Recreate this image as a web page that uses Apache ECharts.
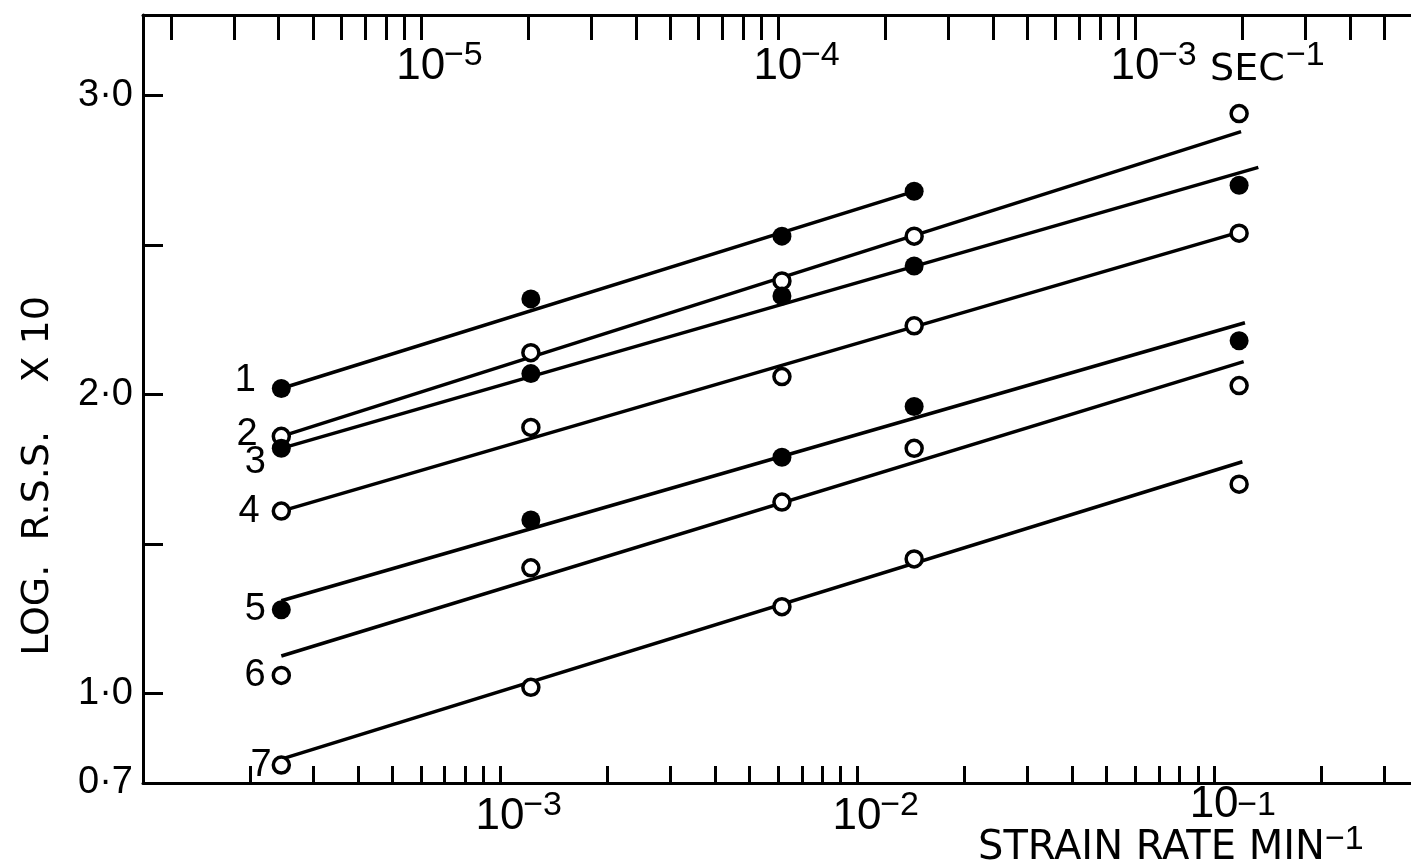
<!DOCTYPE html>
<html>
<head>
<meta charset="utf-8">
<title>Log R.S.S. against strain rate</title>
<script src="https://cdn.jsdelivr.net/npm/echarts@6/dist/echarts.min.js"></script>
<style>
  html, body { margin: 0; padding: 0; background: #fff; }
  #chart { width: 1411px; height: 862px; }
</style>
</head>
<body>
<div id="chart"></div>
<script>
// Strain rates (min^-1) of the five test columns
const strainRates = [2.44e-4, 1.22e-3, 6.16e-3, 1.445e-2, 1.175e-1];

// log(R.S.S.) x 10 for each numbered curve; null where no test was made
const curve1 = [2.02, 2.32, 2.53, 2.68, null];
const curve2 = [1.86, 2.14, 2.38, 2.53, 2.94];
const curve3 = [1.82, 2.07, 2.33, 2.43, 2.70];
const curve4 = [1.61, 1.89, 2.06, 2.23, 2.54];
const curve5 = [1.28, 1.58, 1.79, 1.96, 2.18];
const curve6 = [1.06, 1.42, 1.64, 1.82, 2.03];
const curve7 = [0.76, 1.02, 1.29, 1.45, 1.70];

const curveNames = ['1', '2', '3', '4', '5', '6', '7'];
const filledMarker = [true, false, true, false, true, false, false];

// Straight-line fits: strain rate and value at each end of the line
const fitStartRate  = [2.44e-4, 2.44e-4, 2.44e-4, 2.44e-4, 2.44e-4, 2.44e-4, 2.44e-4];
const fitEndRate    = [1.445e-2, 0.119, 0.133, 0.123, 0.122, 0.121, 0.120];
const fitStartValue = [2.02, 1.86, 1.82, 1.61, 1.31, 1.125, 0.78];
const fitEndValue   = [2.68, 2.88, 2.76, 2.55, 2.24, 2.11, 1.775];

// Axis ranges and tick values
const rateMin = 1e-4, rateMax = 0.356;          // min^-1
const secondsPerMinute = 60;
const minLabelValues = [1e-3, 1e-2, 1e-1];
const secLabelValues = [1e-5, 1e-4, 1e-3];
const rssLabelValues = [0.7, 1.0, 2.0, 3.0];
const rssTickValues = [1.0, 1.5, 2.0, 2.5, 3.0];
const tickMultipliers = [1, 2, 3, 4, 5, 6, 7, 8, 9];
const minTickDecades = [1e-4, 1e-3, 1e-2, 1e-1];
const secTickDecades = [1e-6, 1e-5, 1e-4, 1e-3];

const curves = [curve1, curve2, curve3, curve4, curve5, curve6, curve7];

function decadeTicks(decades, lo, hi) {
  const out = [];
  decades.forEach(d => tickMultipliers.forEach(m => {
    const v = d * m;
    if (v >= lo * 1.0001 && v <= hi) out.push(v);
  }));
  return out;
}
const minTickValues = decadeTicks(minTickDecades, rateMin, rateMax);
const secTickValues = decadeTicks(secTickDecades, rateMin / secondsPerMinute, rateMax / secondsPerMinute);

const NUM = '"Liberation Sans", Arial, sans-serif';
const TXT = '"DejaVu Sans", sans-serif';

const powerRich = {
  p:  { width: 36 },
  q:  { width: 164 },
  b:  { fontFamily: NUM, fontSize: 44, lineHeight: 50, verticalAlign: 'bottom', color: '#000' },
  s:  { fontFamily: NUM, fontSize: 34, lineHeight: 24, verticalAlign: 'top', width: 36, color: '#000' },
  // the last power of ten sits a little higher, clear of the axis title below it
  c:  { fontFamily: NUM, fontSize: 44, lineHeight: 38, verticalAlign: 'bottom', color: '#000' },
  r:  { fontFamily: NUM, fontSize: 34, lineHeight: 14, verticalAlign: 'top', width: 36, color: '#000' },
  t:  { fontFamily: TXT, fontSize: 38, lineHeight: 50, verticalAlign: 'bottom', width: 92, color: '#000' }
};
function exponentOf(v) { return Math.round(Math.log10(v)); }
function minLabel(v) {
  const e = exponentOf(v);
  if (e === -1) return '{p|}{c|10}{r|\u22121}';
  return '{p|}{b|10}{s|\u2212' + (-e) + '}';
}
function secLabel(v) {
  const e = exponentOf(v);
  if (e === -3) return '{q|}{b|10}{s|\u22123}{t| SEC}{s|\u22121}';
  return '{p|}{b|10}{s|\u2212' + (-e) + '}';
}

// Curve number labels sit left of the first point
const labelOffsets = [[-4, -8], [-2, -2], [6, 14], [0, 0], [6, 0], [6, 0], [12, 0]];

const series = [];
curves.forEach((vals, k) => {
  series.push({
    type: 'line',
    name: 'fit ' + curveNames[k],
    xAxisIndex: 0,
    yAxisIndex: 0,
    data: [[fitStartRate[k], fitStartValue[k]], [fitEndRate[k], fitEndValue[k]]],
    symbol: 'none',
    silent: true,
    lineStyle: { color: '#000', width: 3.5, opacity: 1 },
    z: 2
  });
});
curves.forEach((vals, k) => {
  const pts = [];
  vals.forEach((v, i) => {
    if (v === null) return;
    const item = { value: [strainRates[i], v] };
    if (pts.length === 0) {
      item.label = {
        show: true,
        position: 'left',
        distance: 12,
        offset: labelOffsets[k],
        formatter: curveNames[k],
        fontFamily: NUM,
        fontSize: 38,
        color: '#000',
        opacity: 1
      };
    }
    pts.push(item);
  });
  series.push({
    type: 'scatter',
    name: curveNames[k],
    xAxisIndex: 0,
    yAxisIndex: 0,
    data: pts,
    symbol: 'circle',
    symbolSize: filledMarker[k] ? 19 : 16,
    itemStyle: filledMarker[k]
      ? { color: '#000', borderColor: '#000', borderWidth: 0, opacity: 1 }
      : { color: '#fff', borderColor: '#000', borderWidth: 3.5, opacity: 1 },
    label: { show: false },
    z: 3
  });
});

const chart = echarts.init(document.getElementById('chart'), null, { renderer: 'canvas' });
chart.setOption({
  animation: false,
  backgroundColor: '#fff',
  grid: { left: 143, top: 15, width: 1268, height: 768, containLabel: false },
  xAxis: [
    {
      type: 'log',
      position: 'bottom',
      min: rateMin,
      max: rateMax,
      axisLine: { show: true, lineStyle: { color: '#000', width: 3 } },
      axisTick: { show: true, inside: true, length: 17, customValues: minTickValues,
                  lineStyle: { color: '#000', width: 3 } },
      axisLabel: { show: true, customValues: minLabelValues, margin: 6,
                   formatter: minLabel, rich: powerRich },
      splitLine: { show: false },
      minorTick: { show: false }
    },
    {
      type: 'log',
      position: 'top',
      min: rateMin / secondsPerMinute,
      max: rateMax / secondsPerMinute,
      axisLine: { show: true, lineStyle: { color: '#000', width: 3 } },
      axisTick: { show: true, inside: true, length: 25, customValues: secTickValues,
                  lineStyle: { color: '#000', width: 3 } },
      axisLabel: { show: true, inside: true, customValues: secLabelValues, margin: 24,
                   formatter: secLabel, rich: powerRich },
      splitLine: { show: false },
      minorTick: { show: false }
    }
  ],
  yAxis: {
    type: 'value',
    min: 0.7,
    max: 3.27,
    axisLine: { show: true, lineStyle: { color: '#000', width: 3 } },
    axisTick: { show: true, inside: true, length: 20, customValues: rssTickValues,
                lineStyle: { color: '#000', width: 3 } },
    axisLabel: { show: true, customValues: rssLabelValues, margin: 10,
                 formatter: v => v.toFixed(1).replace('.', '\u00b7'),
                 fontFamily: NUM, fontSize: 38, color: '#000' },
    splitLine: { show: false }
  },
  graphic: [
    {
      type: 'text',
      x: 38,
      y: 476,
      rotation: Math.PI / 2,
      style: {
        text: 'LOG.  R.S.S.    X 10',
        font: '38px "DejaVu Sans", sans-serif',
        fill: '#000',
        textAlign: 'center', align: 'center',
        textVerticalAlign: 'middle', verticalAlign: 'middle'
      }
    },
    {
      type: 'text',
      x: 978,
      y: 869,
      style: {
        text: '{a|STRAIN RATE MIN}{s|\u22121}',
        textAlign: 'left', align: 'left',
        textVerticalAlign: 'bottom', verticalAlign: 'bottom',
        rich: {
          a: { fontFamily: TXT, fontSize: 40, lineHeight: 46, verticalAlign: 'bottom', fill: '#000', color: '#000' },
          s: { fontFamily: NUM, fontSize: 34, lineHeight: 26, verticalAlign: 'top', fill: '#000', color: '#000' }
        }
      }
    }
  ],
  series: series
});
</script>
</body>
</html>
